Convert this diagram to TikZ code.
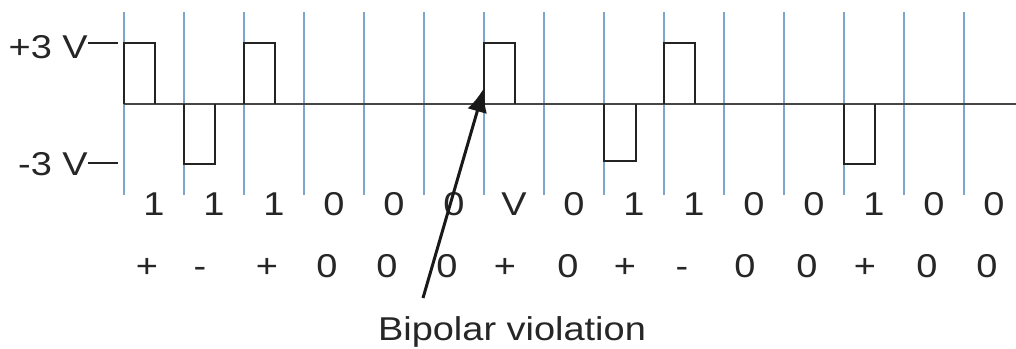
\documentclass[tikz,border=0pt]{standalone}
\usepackage{fontspec}
\usepackage{graphicx}
\setmainfont{Liberation Sans}
\usetikzlibrary{arrows.meta}
\definecolor{gridblue}{RGB}{125,165,205}
\definecolor{basegrey}{RGB}{70,70,70}
\definecolor{pulseblk}{RGB}{35,35,35}
\newcommand\hs[1]{\scalebox{1.15}[1]{#1}}
\tikzset{
  gridline/.style={draw=gridblue, line width=2pt},
  baseln/.style={draw=basegrey, line width=2pt},
  pulse/.style={draw=pulseblk, line width=1.6pt},
  tickln/.style={draw=pulseblk, line width=1.6pt},
  lbl/.style={inner sep=0pt, font=\fontsize{33}{36}\selectfont, text=black!85},
  arr/.style={draw=black!90, line width=3pt, -{Latex[length=24pt,width=20pt]}}
}
\begin{document}
\begin{tikzpicture}[x=1pt,y=-1pt]
\useasboundingbox (0,0) rectangle (1016,348);
% blue grid lines
\foreach \i in {0,...,14} {
  \draw[gridline] (124+60*\i,12) -- (124+60*\i,195);
}
% baseline
\draw[baseln] (124,104) -- (1016,104);
% positive pulses
\foreach \x in {124,244,484,664} {
  \draw[pulse] (\x,104) -- (\x,43) -- (\x+31,43) -- (\x+31,104);
}
% negative pulses
\draw[pulse] (184,104) -- (184,164) -- (215,164) -- (215,104);
\draw[pulse] (604,104) -- (604,161) -- (636,161) -- (636,104);
\draw[pulse] (844,104) -- (844,164) -- (875,164) -- (875,104);
% level labels
\node[lbl, anchor=base east] (vp) at (88,58) {\hs{+3 V}};
\node[lbl, anchor=base east] (vm) at (88,175) {\hs{-3 V}};
\coordinate (vpt) at (118,43);
\coordinate (vmt) at (118,163);
\draw[tickln] (vp.east |- vpt) -- (vpt);
\draw[tickln] (vm.east |- vmt) -- (vmt);
% data row
\foreach \t [count=\k from 0] in {1,1,1,0,0,0,V,0,1,1,0,0,1,0,0} {
  \node[lbl, anchor=base] (d\k) at (154+60*\k,215) {\hs{\t}};
}
% code row
\foreach \t/\x [count=\k from 0] in {+/147,-/200,+/267,0/327,0/387,0/447,+/505,0/568,+/625,-/682,0/745,0/807,+/865,0/927,0/987} {
  \node[lbl, anchor=base] (c\k) at (\x,277) {\hs{\t}};
}
% violation label and arrow
\node[lbl, anchor=base] (bv) at (512,340) {\hs{Bipolar violation}};
\coordinate (tail) at (423,298);
\coordinate (tip) at (484,88);
\draw[arr] (tail) -- (tip);
\end{tikzpicture}
\end{document}
